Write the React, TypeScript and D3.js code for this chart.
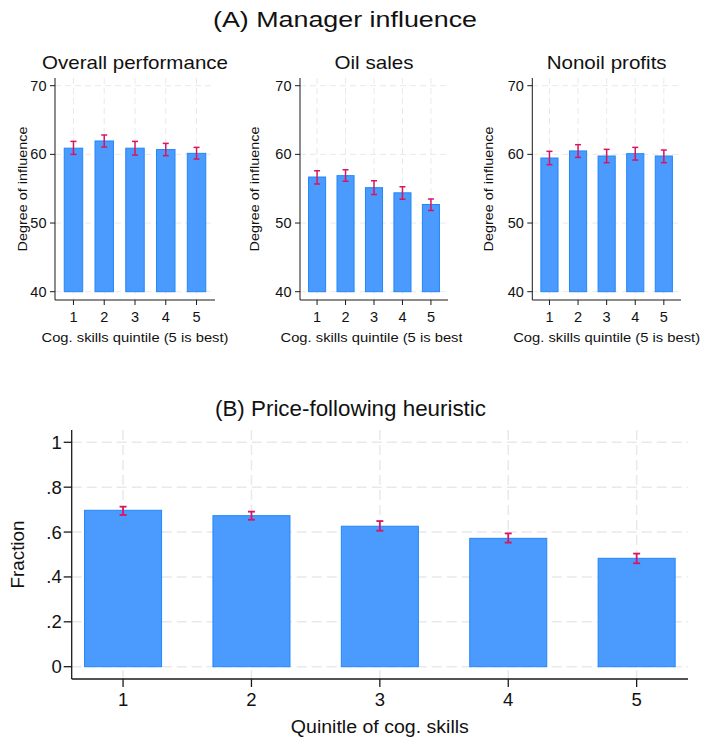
import React from "react";
import * as d3 from "d3";

const quintiles = [1, 2, 3, 4, 5];

const overallMean = [60.9, 61.95, 60.9, 60.7, 60.15];
const overallLo = [60.0, 61.07, 59.9, 59.81, 59.32];
const overallHi = [61.89, 62.82, 61.89, 61.6, 61.02];

const oilMean = [56.7, 56.9, 55.15, 54.4, 52.7];
const oilLo = [55.68, 56.07, 54.17, 53.45, 51.84];
const oilHi = [57.62, 57.77, 56.17, 55.29, 53.5];

const nonoilMean = [59.47, 60.5, 59.76, 60.1, 59.76];
const nonoilLo = [58.5, 59.56, 58.79, 59.17, 58.79];
const nonoilHi = [60.44, 61.41, 60.73, 61.02, 60.63];

const priceMean = [0.697, 0.673, 0.626, 0.572, 0.483];
const priceLo = [0.676, 0.655, 0.606, 0.553, 0.461];
const priceHi = [0.713, 0.691, 0.649, 0.594, 0.504];

const influenceTicks = [40, 50, 60, 70];
const fractionTicks = [0, 0.2, 0.4, 0.6, 0.8, 1];
const fractionLabels = ["0", ".2", ".4", ".6", ".8", "1"];

const panelTitles = ["Overall performance", "Oil sales", "Nonoil profits"];

const FONT = "'Liberation Sans', Arial, Helvetica, sans-serif";
const BAR_FILL = "#4a9bfd";
const BAR_STROKE = "#2486fa";
const ERR = "#d8165f";
const GRID = "#e9e9e9";
const AXIS = "#1a1a1a";

type PanelProps = {
  id: string;
  left: number;
  right: number;
  top: number;
  bottom: number;
  xDomain: [number, number];
  yDomain: [number, number];
  yRange: [number, number];
  means: number[];
  lo: number[];
  hi: number[];
  yTicks: number[];
  yLabels: string[];
  title?: string;
  titleY?: number;
  titleSize?: number;
  titleLen?: number;
  xTitle: string;
  xTitleY: number;
  xTitleLen: number;
  yTitle: string;
  yTitleX: number;
  yTitleLen: number;
  tickSize: number;
  tickLen: number;
  tickLabelGap: number;
  xTickLabelY: number;
  labelSize: number;
  capW: number;
  errW: number;
  dash: string;
  gridW: number;
  axisW: number;
  clip?: [number, number];
};

function Panel(p: PanelProps) {
  const x = d3.scaleLinear().domain(p.xDomain).range([p.left, p.right]);
  const y = d3.scaleLinear().domain(p.yDomain).range(p.yRange);
  const bw = x(0.6) - x(0);
  const base = p.yDomain[0];
  const cx = (p.left + p.right) / 2;
  const cy = (p.top + p.bottom) / 2;
  const clipId = `clip-${p.id}`;
  return (
    <g>
      {p.clip && (
        <defs>
          <clipPath id={clipId}>
            <rect x={p.clip[0]} y={0} width={p.clip[1] - p.clip[0]} height={742} />
          </clipPath>
        </defs>
      )}
      <g clipPath={p.clip ? `url(#${clipId})` : undefined}>
        {p.yTicks.map((t) => (
          <line key={"gy" + t} x1={p.left} x2={p.right} y1={y(t)} y2={y(t)}
            stroke={GRID} strokeWidth={p.gridW} strokeDasharray={p.dash} />
        ))}
        {quintiles.map((q) => (
          <line key={"gx" + q} x1={x(q)} x2={x(q)} y1={p.top} y2={p.bottom}
            stroke={GRID} strokeWidth={p.gridW} strokeDasharray={p.dash} />
        ))}
        {quintiles.map((q, i) => (
          <rect key={"b" + q} x={x(q) - bw / 2} width={bw}
            y={y(p.means[i])} height={y(base) - y(p.means[i])}
            fill={BAR_FILL} stroke={BAR_STROKE} strokeWidth={1} />
        ))}
        {quintiles.map((q, i) => (
          <g key={"e" + q} stroke={ERR} strokeWidth={p.errW}>
            <line x1={x(q)} x2={x(q)} y1={y(p.lo[i])} y2={y(p.hi[i])} />
            <line x1={x(q) - p.capW / 2} x2={x(q) + p.capW / 2} y1={y(p.lo[i])} y2={y(p.lo[i])} />
            <line x1={x(q) - p.capW / 2} x2={x(q) + p.capW / 2} y1={y(p.hi[i])} y2={y(p.hi[i])} />
          </g>
        ))}
        <line x1={p.left} x2={p.left} y1={p.top} y2={p.bottom} stroke={AXIS} strokeWidth={p.axisW} />
        <line x1={p.left} x2={p.right} y1={p.bottom} y2={p.bottom} stroke={AXIS} strokeWidth={p.axisW} />
        {p.yTicks.map((t, i) => (
          <g key={"yt" + t}>
            <line x1={p.left - p.tickLen} x2={p.left} y1={y(t)} y2={y(t)} stroke={AXIS} strokeWidth={p.axisW} />
            <text x={p.left - p.tickLen - p.tickLabelGap} y={y(t)} dy="0.35em" textAnchor="end"
              fontSize={p.tickSize} fontFamily={FONT} fill="#111">{p.yLabels[i]}</text>
          </g>
        ))}
        {quintiles.map((q) => (
          <g key={"xt" + q}>
            <line x1={x(q)} x2={x(q)} y1={p.bottom} y2={p.bottom + p.tickLen} stroke={AXIS} strokeWidth={p.axisW} />
            <text x={x(q)} y={p.xTickLabelY} textAnchor="middle"
              fontSize={p.tickSize} fontFamily={FONT} fill="#111">{q}</text>
          </g>
        ))}
        <text x={cx - p.xTitleLen / 2} y={p.xTitleY} textLength={p.xTitleLen} lengthAdjust="spacingAndGlyphs"
          fontSize={p.labelSize} fontFamily={FONT} fill="#111">{p.xTitle}</text>
        <text transform={`translate(${p.yTitleX},${cy}) rotate(-90)`} x={-p.yTitleLen / 2} dy="0.35em"
          textLength={p.yTitleLen} lengthAdjust="spacingAndGlyphs"
          fontSize={p.labelSize} fontFamily={FONT} fill="#111">{p.yTitle}</text>
        {p.title && (
          <text x={cx - (p.titleLen || 0) / 2} y={p.titleY} textLength={p.titleLen} lengthAdjust="spacingAndGlyphs"
            fontSize={p.titleSize} fontFamily={FONT} fill="#111">{p.title}</text>
        )}
      </g>
    </g>
  );
}

const aPanels = [
  { id: "a1", left: 55, right: 215, yTitleX: 22.5, titleLen: 186, means: overallMean, lo: overallLo, hi: overallHi, clip: [0, 240] as [number, number] },
  { id: "a2", left: 300, right: 448, yTitleX: 254, titleLen: 79, means: oilMean, lo: oilLo, hi: oilHi, clip: [240, 462.5] as [number, number] },
  { id: "a3", left: 532.3, right: 681, yTitleX: 488, titleLen: 120, means: nonoilMean, lo: nonoilLo, hi: nonoilHi, clip: [462.5, 701] as [number, number] },
];

export default function App() {
  return (
    <svg width={701} height={742} viewBox="0 0 701 742"
      style={{ position: "absolute", left: 0, top: 0, background: "#fff" }}>
      <rect x={0} y={0} width={701} height={742} fill="#fff" />
      <text x={213} y={27} textLength={264} lengthAdjust="spacingAndGlyphs"
        fontSize={22} fontFamily={FONT} fill="#111">(A) Manager influence</text>
      {aPanels.map((ap, k) => (
        <Panel key={ap.id} id={ap.id} left={ap.left} right={ap.right} top={78} bottom={300}
          xDomain={[0.4, 5.6]} yDomain={[40, 70]} yRange={[291.7, 85.7]}
          means={ap.means} lo={ap.lo} hi={ap.hi}
          yTicks={influenceTicks} yLabels={influenceTicks.map(String)}
          title={panelTitles[k]} titleY={69.3} titleSize={18.5} titleLen={ap.titleLen}
          xTitle="Cog. skills quintile (5 is best)" xTitleY={341.5} xTitleLen={187}
          yTitle="Degree of influence" yTitleX={ap.yTitleX} yTitleLen={125}
          tickSize={14.5} tickLen={5} tickLabelGap={3.5} xTickLabelY={321.5} labelSize={13.5}
          capW={6} errW={1.5} dash="6,4" gridW={1} axisW={1} clip={ap.clip} />
      ))}
      <text x={215} y={416} textLength={271} lengthAdjust="spacingAndGlyphs"
        fontSize={22} fontFamily={FONT} fill="#111">(B) Price-following heuristic</text>
      <Panel id="b" left={71.7} right={688} top={430} bottom={679}
        xDomain={[0.6, 5.4]} yDomain={[0, 1]} yRange={[666.7, 442.3]}
        means={priceMean} lo={priceLo} hi={priceHi}
        yTicks={fractionTicks} yLabels={fractionLabels}
        xTitle="Quinitle of cog. skills" xTitleY={733} xTitleLen={178}
        yTitle="Fraction" yTitleX={18} yTitleLen={68}
        tickSize={18.5} tickLen={8} tickLabelGap={2} xTickLabelY={706} labelSize={18}
        capW={7} errW={1.8} dash="10,5" gridW={1.5} axisW={1.3} />
    </svg>
  );
}
